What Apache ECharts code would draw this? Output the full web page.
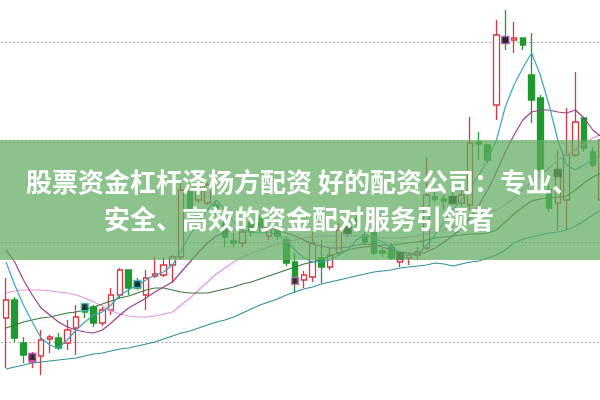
<!DOCTYPE html>
<html><head><meta charset="utf-8">
<script src="https://cdn.jsdelivr.net/npm/echarts@6/dist/echarts.min.js"></script>
<style>html,body{margin:0;padding:0;background:#fff}#c{width:600px;height:400px}</style>
</head><body><div id="c"></div>
<script>
const categories = ['1','2','3','4','5','6','7','8','9','10','11','12','13','14','15','16','17','18','19','20','21','22','23','24','25','26','27','28','29','30','31','32','33','34','35','36','37','38','39','40','41','42','43','44','45','46','47','48','49','50','51','52','53','54','55','56','57','58','59','60','61','62','63','64','65','66','67','68','69'];
const opens = [102.4,104.2,99.9,98.0,98.6,100.3,100.4,99.9,101.4,103.4, 103.5,101.9,103.2,104.7,107.2,105.8,104.7,106.6,106.7,107.7, 108.5,115.2,114.2,113.9,113.7,111.9,110.1,109.9,112.0,112.4, 110.6,111.1,110.2,108.0,106.2,106.5,108.4,107.5,108.9,111.4, 112.3,110.7,110.9,109.1,109.5,108.0,108.4,108.7,109.4,114.5, 114.3,114.5,113.9,113.7,120.0,119.7,123.7,130.4,130.2,130.4, 126.7,124.4,115.2,113.9,114.2,118.7,122.4,119.0,114.2];
const closes = [104.2,100.4,98.7,98.3,100.2,100.5,99.4,101.2,102.5,103.0, 101.9,103.2,104.7,107.2,105.4,105.4,106.4,106.8,107.7,108.5, 115.2,113.4,115.4,115.7,113.4,110.5,109.9,111.0,111.0,111.5, 111.2,110.6,107.9,106.5,106.7,109.9,107.5,108.7,111.2,110.9, 112.0,110.0,108.9,108.9,108.4,108.4,108.7,109.0,114.7,114.3, 114.1,114.0,114.7,119.9,119.8,118.2,130.7,129.9,130.4,129.7, 124.2,117.2,113.4,116.9,118.7,122.0,119.4,117.7,120.2];
const lows = [97.4,100.0,97.9,97.4,96.7,98.9,99.2,99.2,98.7,102.4, 101.5,101.6,102.7,104.4,104.7,105.2,103.2,106.4,106.5,105.9, 108.2,113.0,113.9,113.7,112.7,109.5,109.5,109.5,110.6,111.0, 110.2,110.2,107.6,104.9,105.4,106.0,105.9,107.2,108.6,110.4, 111.6,109.7,108.7,108.5,108.2,107.5,107.7,108.2,109.2,114.0, 113.2,113.7,113.6,113.2,118.2,117.9,122.2,129.2,128.9,129.2, 121.9,116.4,113.0,111.2,111.2,118.5,119.0,117.5,114.0];
const highs = [106.4,104.5,100.5,99.0,101.2,100.7,100.9,102.2,103.7,103.9, 103.7,103.5,105.4,107.4,107.2,106.4,107.2,108.5,108.5,108.7, 116.2,115.5,115.9,116.0,114.2,112.2,110.9,111.2,112.4,112.7, 111.6,111.6,110.6,108.9,107.1,111.0,110.2,109.4,111.9,112.2, 112.7,111.0,111.0,109.4,109.9,108.9,109.0,109.5,118.4,115.2, 114.7,115.0,115.2,122.5,121.0,119.8,132.2,133.2,132.0,130.4, 130.9,124.7,115.7,119.2,123.4,127.0,122.4,119.5,126.0];
const ma5 = [108.0,105.7,103.7,102.0,100.4,99.7,99.4,100.2,101.2,102.0, 102.7,103.0,103.7,104.7,105.2,105.7,106.2,106.7,107.0,107.7, 109.2,110.7,112.0,113.2,114.2,113.2,112.0,111.2,111.0,110.9, 111.0,110.7,110.2,109.2,108.4,108.0,108.0,108.2,108.7,109.2, 110.2,110.7,110.4,110.0,109.4,109.0,108.7,108.7,109.7,110.7, 112.0,113.2,114.2,115.4,116.7,118.2,120.2,123.5,125.7,127.4, 128.9,126.7,123.7,120.2,117.7,117.2,117.7,118.2,118.7];
const ma10 = [109.2,108.0,106.2,104.7,103.4,102.7,102.0,101.5,101.2,101.0, 100.9,101.2,101.9,102.7,103.4,103.9,104.4,105.0,105.5,106.0, 107.0,108.0,109.0,109.9,110.6,111.0,111.2,111.4,111.6,111.6, 111.4,111.2,110.9,110.6,110.2,109.8,109.6,109.4,109.4,109.5, 109.7,109.8,109.7,109.5,109.2,109.0,108.9,108.8,109.0,109.4, 110.0,110.6,111.4,112.4,113.7,115.2,117.0,119.0,120.7,122.2, 123.0,123.2,123.2,123.0,122.9,123.2,122.4,121.2,120.5];
const ma20 = [101.4,101.7,102.0,102.2,102.4,102.5,102.7,102.9,103.0,103.2, 103.5,103.8,104.1,104.4,104.6,104.9,105.2,105.4,105.4,105.2, 105.0,104.9,104.9,104.9,105.1,105.3,105.5,105.8,106.0,106.3, 106.6,106.9,107.2,107.5,107.8,108.0,108.3,108.6,108.9,109.2, 109.4,109.5,109.6,109.7,109.7,109.8,109.9,110.0,110.2,110.4, 110.5,110.6,110.7,110.8,110.8,110.9,111.2,112.0,112.8,113.5, 114.1,114.3,114.4,114.5,114.6,115.2,115.9,116.5,116.9];
const ma30 = [104.9,105.1,105.2,105.2,105.2,105.1,105.0,104.9,104.7,104.4, 104.0,103.6,103.1,102.8,102.6,102.5,102.5,102.6,102.8,103.0, 103.7,104.4,105.2,106.0,106.8,107.4,108.0,108.5,108.9,109.2, 109.5,109.8,110.0,110.2,110.4,110.5,110.6,110.6,110.6,110.6, 110.6,110.6,110.5,110.4,110.4,110.4,110.5,110.6,110.8,111.0, 111.2,111.6,112.0,112.4,112.8,113.0,113.2,113.7,114.4,115.2, 116.0,116.7,117.4,118.2,118.7,119.2,119.8,120.4,120.8];
const ma60 = [97.3,97.5,97.7,97.9,98.0,98.1,98.2,98.3,98.4,98.6, 98.8,98.9,99.1,99.3,99.4,99.6,99.8,100.0,100.3,100.6, 100.9,101.1,101.4,101.7,102.0,102.2,102.5,102.9,103.3,103.7, 104.0,104.3,104.7,105.0,105.3,105.5,105.8,106.0,106.2,106.4, 106.6,106.8,107.0,107.1,107.2,107.4,107.5,107.6,107.7,107.9, 107.8,107.6,107.8,108.0,108.1,108.4,108.7,109.2,109.9,110.3, 110.5,110.7,110.9,111.0,111.2,111.6,112.1,112.7,113.2];
const markerIdx = [3,9,15,33,39,45,51,57,63];
const markerVal = [98.5,103.5,105.8,106.1,111.2,108.6,114.2,130.2,116.9];
const titleLine1 = '股票资金杠杆泽杨方配资 好的配资公司：专业、';
const titleLine2 = '安全、高效的资金配对服务引领者';

const markerBorder = ['#d040d0','#40c0d0','#40c0d0','#e070c0','#333','#333','#333','#b050c0','#333'];

const kData = categories.map((c,i)=>[opens[i],closes[i],lows[i],highs[i]]);
const markData = markerIdx.map((ix,k)=>({value:[categories[ix], markerVal[k]], itemStyle:{color:'#111', borderColor:markerBorder[k], borderWidth:1.5}}));

function ma(name, data, color){
  return {name, type:'line', data, symbol:'none', smooth:false, lineStyle:{color, width:1.2}, itemStyle:{color}, z:3};
}

const chart = echarts.init(document.getElementById('c'), null, {renderer:'canvas'});
chart.setOption({
  animation:false,
  backgroundColor:'#ffffff',
  grid:{left:1.6, width:604.4, top:-58, height:500, outerBoundsMode:'none', containLabel:false},
  xAxis:{type:'category', data:categories, boundaryGap:true, show:false},
  yAxis:{type:'value', min:90, max:140, interval:10,
    axisLine:{show:false}, axisTick:{show:false}, axisLabel:{show:false},
    splitLine:{show:true, lineStyle:{color:'#8c8c8c', type:[1.5,2.5], width:1.2}}},
  series:[
    {type:'candlestick', data:kData, barWidth:6,
      itemStyle:{color:'#ffffff', color0:'#1f9a2f', borderColor:'#d9363e', borderColor0:'#1f9a2f', borderWidth:1.3}},
    ma('MA60', ma60, '#2f8f9c'),
    ma('MA30', ma30, '#e592e5'),
    ma('MA20', ma20, '#3a7a3a'),
    ma('MA10', ma10, '#9c3f8f'),
    ma('MA5', ma5, '#3aa6c4'),
    {type:'scatter', data:markData, symbol:'rect', symbolSize:[7,7], z:4}
  ],
  graphic:[
    {type:'rect', shape:{x:0, y:140, width:600, height:120}, style:{fill:'rgba(96,172,96,0.72)'}, z:100},
    {type:'text', x:302, y:182, z:101, style:{text:titleLine1, fill:'#ffffff', font:'bold 26px "Noto Sans CJK SC"', textAlign:'center', textVerticalAlign:'middle'}},
    {type:'text', x:299, y:219, z:101, style:{text:titleLine2, fill:'#ffffff', font:'bold 26px "Noto Sans CJK SC"', textAlign:'center', textVerticalAlign:'middle'}}
  ]
});
</script>
</body></html>
